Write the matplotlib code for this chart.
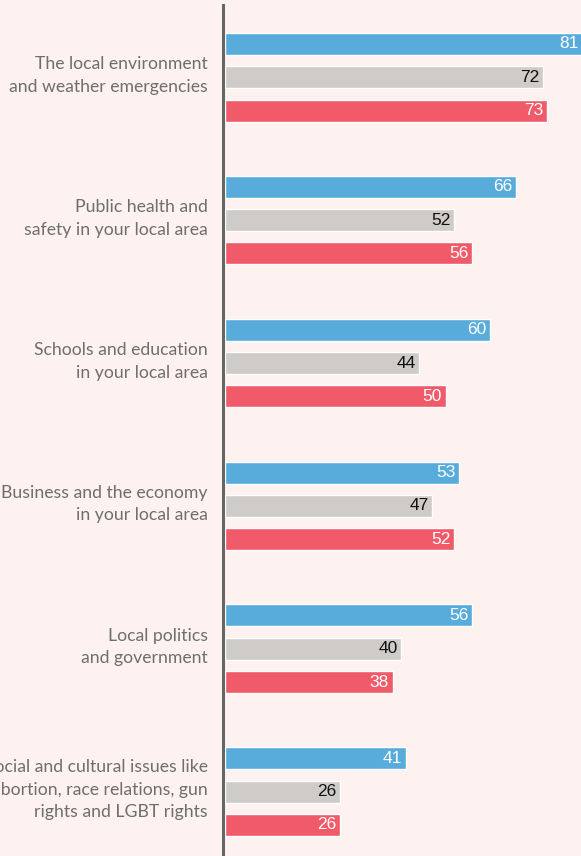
import numpy as np
import matplotlib.pyplot as plt

categories = [
    'The local environment\nand weather emergencies',
    'Public health and\nsafety in your local area',
    'Schools and education\nin your local area',
    'Business and the economy\nin your local area',
    'Local politics\nand government',
    'Social and cultural issues like\nabortion, race relations, gun\nrights and LGBT rights',
]
blue_vals = [81, 66, 60, 53, 56, 41]
gray_vals = [72, 52, 44, 47, 40, 26]
red_vals = [73, 56, 50, 52, 38, 26]

bg = '#fdf2ef'
colors = ['#58acdc', '#cecbc9', '#f05a69']
text_colors = ['white', '#111111', 'white']

fig = plt.figure(figsize=(5.81, 8.56), dpi=100, facecolor=bg)
ax = fig.add_axes([225 / 581, 0, 1 - 225 / 581, 1])
ax.set_facecolor(bg)

group_gap = 4.29
bar_h = 0.66
base = np.arange(len(categories)) * group_gap

for j, (vals, c, tc) in enumerate(zip([blue_vals, gray_vals, red_vals], colors, text_colors)):
    y = base + j
    ax.barh(y, vals, height=bar_h, color=c, edgecolor='white', linewidth=1)
    for yy, v in zip(y, vals):
        ax.text(v - 0.8, yy, str(v), ha='right', va='center', color=tc,
                fontsize=12.5, family='Liberation Sans')

for yy, lab in zip(base + 1, categories):
    ax.text(-3.95, yy - 0.05, lab, ha='right', va='center', color='#6e6e6e',
            fontsize=12.7, family='Lato', linespacing=1.5)

ax.set_xlim(0, 356 / 4.41)
top = -44 / 33.3
ax.set_ylim((856 - 44) / 33.3, top)

for s in ['top', 'right', 'bottom']:
    ax.spines[s].set_visible(False)
ax.spines['left'].set_color('#666666')
ax.spines['left'].set_linewidth(2.2)
ax.spines['left'].set_position(('outward', 1.5))
ax.spines['left'].set_bounds((856 - 44) / 33.3, top + 5 / 33.3)
ax.set_xticks([])
ax.set_yticks([])

fig.savefig('out.png', dpi=100, facecolor=bg)
